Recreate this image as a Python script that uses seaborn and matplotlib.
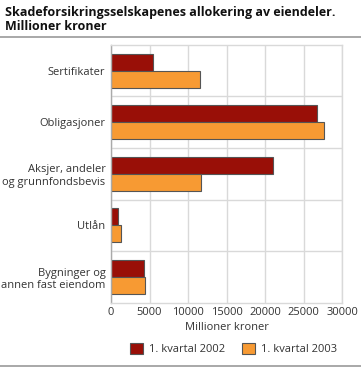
import pandas as pd
import matplotlib.pyplot as plt
import seaborn as sns

# data
kategorier = ["Sertifikater", "Obligasjoner", "Aksjer, andeler\nog grunnfondsbevis",
              "Utlån", "Bygninger og\nannen fast eiendom"]
kv2002 = [5400, 26750, 21000, 950, 4300]
kv2003 = [11600, 27700, 11750, 1250, 4400]
serier = ["1. kvartal 2002", "1. kvartal 2003"]
farger = ["#990f07", "#f79a33"]

df = pd.DataFrame({
    "kategori": kategorier * 2,
    "verdi": kv2002 + kv2003,
    "serie": [serier[0]] * len(kategorier) + [serier[1]] * len(kategorier),
})

sns.set_style("white")
plt.rcParams["font.family"] = ["Open Sans", "DejaVu Sans"]

fig = plt.figure(figsize=(3.61, 3.68), dpi=100)
ax = fig.add_axes([0.3075, 0.177, 0.640, 0.701])

sns.barplot(data=df, x="verdi", y="kategori", hue="serie", orient="h",
            palette=farger, width=0.66, edgecolor="#555555", linewidth=0.8,
            saturation=1, ax=ax)

ax.set_xlim(0, 30000)
ax.set_xticks(range(0, 30001, 5000))
ax.set_ylim(len(kategorier) - 0.5, -0.5)
ax.set_xlabel("Millioner kroner", fontsize=8, color="#333333", labelpad=3)
ax.set_ylabel("")
ax.tick_params(axis="both", labelsize=8, colors="#333333", length=0, pad=3)
ax.tick_params(axis="y", pad=4)

# grid: vertical at ticks, horizontal between categories
ax.grid(axis="x", color="#d9d9d9", linewidth=1)
for b in range(1, len(kategorier)):
    ax.axhline(b - 0.5, color="#d9d9d9", linewidth=1, zorder=0)
ax.set_axisbelow(True)
for side, sp in ax.spines.items():
    sp.set_color("#d9d9d9")
    sp.set_linewidth(1)
ax.spines["left"].set_color("#aaaaaa")

leg = ax.legend(loc="center", bbox_to_anchor=(0.53, -0.178), ncol=2,
                frameon=False, fontsize=8, handlelength=1.2, handleheight=1.2,
                columnspacing=1.5, handletextpad=0.5)
for t in leg.get_texts():
    t.set_color("#333333")

fig.text(0.014, 0.985, "Skadeforsikringsselskapenes allokering av eiendeler.\nMillioner kroner",
         fontsize=9, fontweight="bold", va="top", ha="left", color="#111111",
         linespacing=1.15)
fig.add_artist(plt.Line2D([0, 1], [0.9, 0.9], color="#999999", linewidth=1.2))
fig.add_artist(plt.Line2D([0, 1], [0.005, 0.005], color="#999999", linewidth=1.2))

fig.savefig("out.png", dpi=100)
